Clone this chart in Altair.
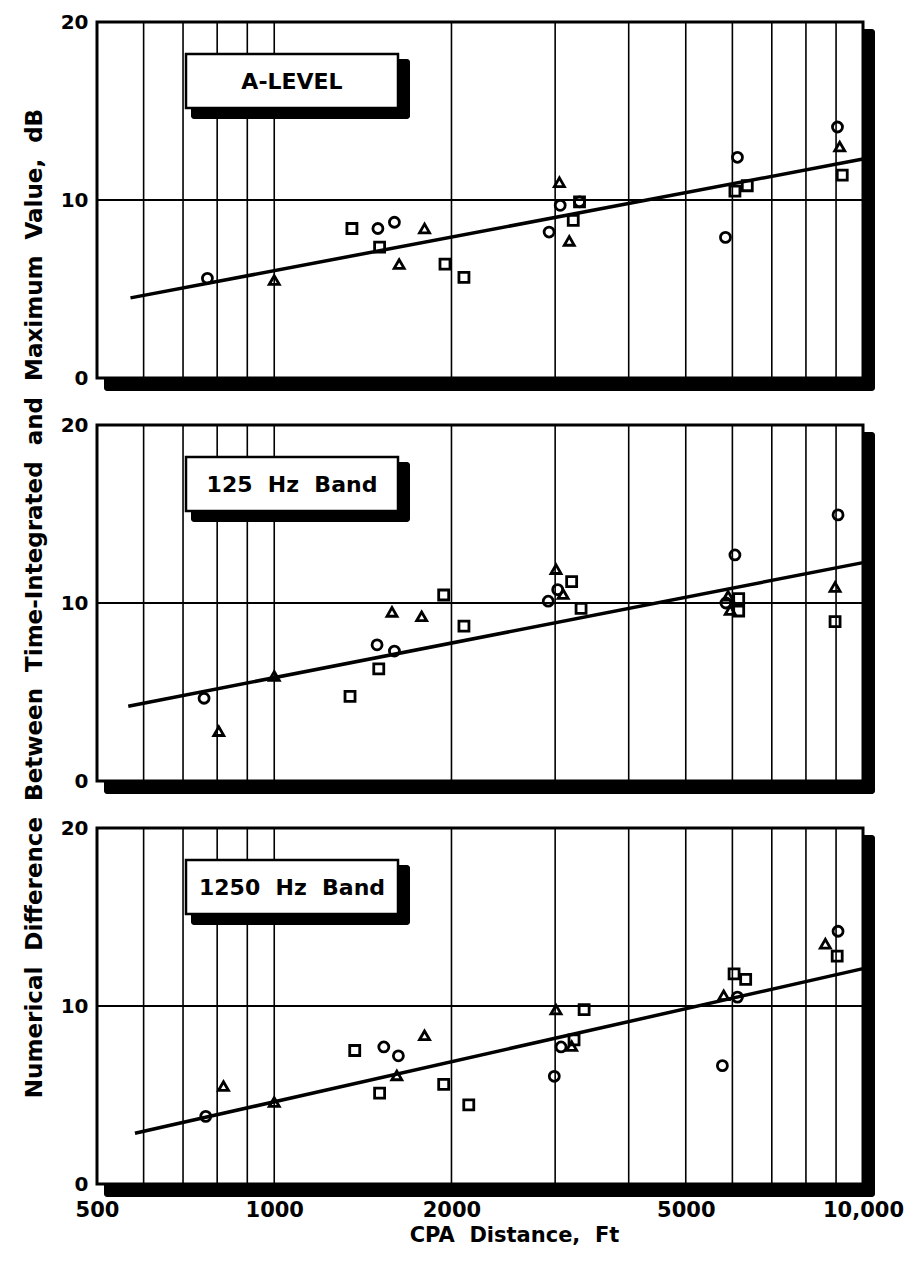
import altair as alt
import pandas as pd

# ---------------- data ----------------
X_DOMAIN = [500, 10000]
Y_DOMAIN = [0, 20]
x_grid = [600, 700, 800, 900, 1000, 2000, 3000, 4000, 5000, 6000, 7000, 8000, 9000]
y_grid = [10]
x_tick_values = [500, 1000, 2000, 5000, 10000]
y_tick_values = [0, 10, 20]

SP = "\u00a0\u00a0"  # wide word gap (non-breaking spaces survive SVG whitespace collapsing)
panel_labels = ["A-LEVEL", "125" + SP + "Hz" + SP + "Band", "1250" + SP + "Hz" + SP + "Band"]

# Panel 1 : A-LEVEL
p1_circle_x = [770, 1500, 1600, 2930, 3060, 3300, 6120, 5840, 9050]
p1_circle_y = [5.6, 8.4, 8.75, 8.2, 9.7, 9.9, 12.4, 7.9, 14.1]
p1_triangle_x = [1000, 1800, 1630, 3050, 3170, 9130]
p1_triangle_y = [5.5, 8.4, 6.4, 11.0, 7.7, 13.0]
p1_square_x = [1355, 1510, 1950, 2100, 3300, 3220, 6060, 6360, 9220]
p1_square_y = [8.4, 7.35, 6.4, 5.65, 9.9, 8.85, 10.5, 10.8, 11.4]
p1_fit_x = [570, 10000]
p1_fit_y = [4.5, 12.3]

# Panel 2 : 125 Hz Band
p2_circle_x = [760, 1495, 1600, 2920, 3030, 6060, 5850, 9070]
p2_circle_y = [4.65, 7.65, 7.3, 10.1, 10.75, 12.7, 10.0, 14.95]
p2_triangle_x = [805, 1000, 1585, 1780, 3010, 3095, 5900, 5950, 8965]
p2_triangle_y = [2.8, 5.9, 9.5, 9.25, 11.9, 10.5, 10.4, 9.6, 10.9]
p2_square_x = [1345, 1505, 1940, 2100, 3200, 3320, 6150, 6150, 8965]
p2_square_y = [4.75, 6.3, 10.45, 8.7, 11.2, 9.7, 10.25, 9.55, 8.95]
p2_fit_x = [565, 10000]
p2_fit_y = [4.2, 12.27]

# Panel 3 : 1250 Hz Band
p3_circle_x = [765, 1535, 1625, 2990, 3070, 5770, 6120, 9070]
p3_circle_y = [3.8, 7.7, 7.2, 6.05, 7.7, 6.65, 10.5, 14.2]
p3_triangle_x = [820, 1000, 1615, 1800, 3010, 3200, 5800, 8630]
p3_triangle_y = [5.5, 4.6, 6.1, 8.35, 9.8, 7.75, 10.6, 13.5]
p3_square_x = [1370, 1510, 1940, 2140, 3360, 3230, 6040, 6320, 9040]
p3_square_y = [7.5, 5.1, 5.6, 4.45, 9.8, 8.1, 11.8, 11.5, 12.8]
p3_fit_x = [580, 10000]
p3_fit_y = [2.85, 12.1]

# ---------------- layout / style ----------------
W, H = 766, 356
FONT = "DejaVu Sans"
Y_TITLE = SP.join(["Numerical", "Difference", "Between", "Time-Integrated",
                   "and", "Maximum", "Value,", "dB"])
X_TITLE = SP.join(["CPA", "Distance,", "Ft"])


def points_frame(cx, cy, tx, ty, sx, sy):
    rows = []
    rows += [{"x": a, "y": b, "shape": "circle"} for a, b in zip(cx, cy)]
    rows += [{"x": a, "y": b, "shape": "triangle"} for a, b in zip(tx, ty)]
    rows += [{"x": a, "y": b, "shape": "square"} for a, b in zip(sx, sy)]
    return pd.DataFrame(rows)


def make_panel(label, pts, fit_x, fit_y, show_x_axis, show_y_title):
    xscale = alt.Scale(type="log", domain=X_DOMAIN, nice=False)
    yscale = alt.Scale(domain=Y_DOMAIN, nice=False, zero=False)

    if show_x_axis:
        xaxis = alt.Axis(
            values=x_tick_values, grid=False, ticks=False, domain=False,
            labelFont=FONT, labelFontSize=21, labelFontWeight="bold",
            labelColor="black", labelPadding=15, labelFlush=False,
            labelExpr="datum.value == 10000 ? '10,000' : format(datum.value, 'd')",
            title=X_TITLE, titleFont=FONT, titleFontSize=21,
            titleFontWeight="bold", titleColor="black", titlePadding=4,
            titleX=417,
        )
    else:
        xaxis = None

    yaxis_kwargs = dict(
        values=y_tick_values, grid=False, ticks=False, domain=False,
        labelFont=FONT, labelFontSize=20, labelFontWeight="bold",
        labelColor="black", labelPadding=9, labelFlush=False,
        minExtent=34, maxExtent=34,
    )
    if show_y_title:
        yaxis = alt.Axis(title=Y_TITLE, titleFont=FONT, titleFontSize=23,
                         titleFontWeight="bold", titleColor="black",
                         titlePadding=17, **yaxis_kwargs)
    else:
        yaxis = alt.Axis(title=None, **yaxis_kwargs)

    def X(field):
        return alt.X(field, type="quantitative", scale=xscale, axis=xaxis)

    def Y(field):
        return alt.Y(field, type="quantitative", scale=yscale, axis=yaxis)

    one = alt.Data(values=[{"k": 1}])

    shadow = alt.Chart(one).mark_rect(color="black", cornerRadius=3).encode(
        x=alt.value(7), x2=alt.value(W + 12), y=alt.value(7), y2=alt.value(H + 13)
    )
    frame = alt.Chart(one).mark_rect(fill="white", stroke="black", strokeWidth=3).encode(
        x=alt.value(0), x2=alt.value(W), y=alt.value(0), y2=alt.value(H)
    )
    vgrid = alt.Chart(pd.DataFrame({"x": x_grid})).mark_rule(
        color="black", strokeWidth=1.6
    ).encode(x=X("x"))
    hgrid = alt.Chart(pd.DataFrame({"y": y_grid})).mark_rule(
        color="black", strokeWidth=2
    ).encode(y=Y("y"))

    bx0, bx1, by0, by1 = 89, 301, 32, 86
    box_shadow = alt.Chart(one).mark_rect(color="black", cornerRadius=3).encode(
        x=alt.value(bx0 + 5), x2=alt.value(bx1 + 12), y=alt.value(by0 + 5), y2=alt.value(by1 + 11)
    )
    box = alt.Chart(one).mark_rect(fill="white", stroke="black", strokeWidth=2.5).encode(
        x=alt.value(bx0), x2=alt.value(bx1), y=alt.value(by0), y2=alt.value(by1)
    )
    box_text = alt.Chart(one).mark_text(
        text=label, font=FONT, fontSize=22, fontWeight="bold", color="black",
        align="center", baseline="middle"
    ).encode(x=alt.value((bx0 + bx1) / 2), y=alt.value((by0 + by1) / 2 + 1))

    fit = alt.Chart(pd.DataFrame({"x": fit_x, "y": fit_y})).mark_line(
        color="black", strokeWidth=3.5
    ).encode(x=X("x"), y=Y("y"))

    marks = alt.Chart(pts).mark_point(
        filled=False, color="black", strokeWidth=2.8, size=100, opacity=1
    ).encode(
        x=X("x"), y=Y("y"),
        shape=alt.Shape("shape:N",
                        scale=alt.Scale(domain=["circle", "square", "triangle"],
                                        range=["circle", "square", "triangle-up"]),
                        legend=None),
    )

    return alt.layer(shadow, frame, vgrid, hgrid, box_shadow, box, box_text, fit, marks).properties(
        width=W, height=H
    )


p1 = make_panel(panel_labels[0],
                points_frame(p1_circle_x, p1_circle_y, p1_triangle_x, p1_triangle_y, p1_square_x, p1_square_y),
                p1_fit_x, p1_fit_y, False, False)
p2 = make_panel(panel_labels[1],
                points_frame(p2_circle_x, p2_circle_y, p2_triangle_x, p2_triangle_y, p2_square_x, p2_square_y),
                p2_fit_x, p2_fit_y, False, True)
p3 = make_panel(panel_labels[2],
                points_frame(p3_circle_x, p3_circle_y, p3_triangle_x, p3_triangle_y, p3_square_x, p3_square_y),
                p3_fit_x, p3_fit_y, True, False)

chart = alt.vconcat(p1, p2, p3, spacing=47, bounds="flush").properties(
    padding={"left": 22, "top": 11, "right": 5, "bottom": 5}
).configure_view(strokeWidth=0).configure(background="white")

chart.save("out.html", embed_options={"renderer": "svg", "actions": False})
